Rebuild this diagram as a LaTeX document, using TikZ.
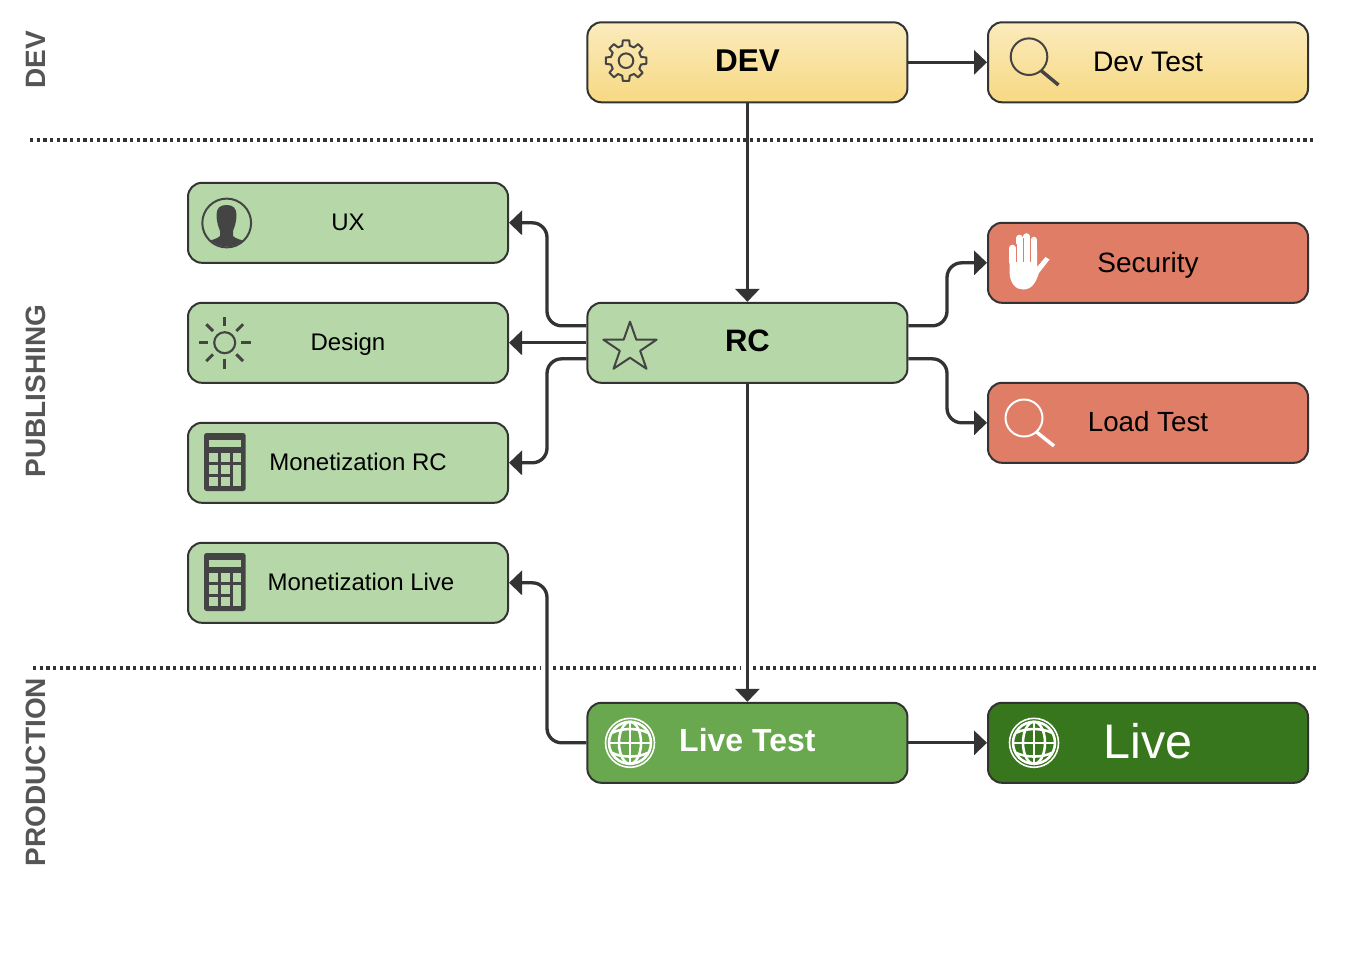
\documentclass[tikz,border=0pt]{standalone}
\usepackage{fontspec}
\setmainfont{Liberation Sans}
\usetikzlibrary{arrows.meta,calc}
\definecolor{ink}{HTML}{333333}
\definecolor{icon}{HTML}{444444}
\definecolor{side}{HTML}{555555}
\definecolor{pale}{HTML}{B6D7A8}
\definecolor{redbox}{HTML}{E07D67}
\definecolor{midgreen}{HTML}{6AA84F}
\definecolor{darkgreen}{HTML}{38761D}
\definecolor{goldtop}{HTML}{FBEBBD}
\definecolor{goldbot}{HTML}{F7D983}
\tikzset{
  x=0.75pt,y=-0.75pt,
  fs/.style={font=\fontsize{#1pt}{#1pt}\selectfont,text height=#1*0.72pt,text depth=#1*0.06pt},
  fsb/.style={font=\fontsize{#1pt}{#1pt}\selectfont\bfseries,text height=#1*0.72pt,text depth=#1*0.15pt},
  box/.style={draw=ink,line width=1.5pt,rounded corners=10.5pt,minimum width=240pt,minimum height=60pt,inner sep=0pt,align=center},
  gold/.style={box,top color=goldtop,bottom color=goldbot},
  greenbox/.style={box,fill=pale},
  red/.style={box,fill=redbox},
  conn/.style={draw=ink,line width=2.5pt,rounded corners=11pt,-{Triangle[length=9.75pt,width=18pt]}},
  sep/.style={draw=ink,line width=2.7pt,dash pattern=on 2.6pt off 2.4pt},
  lane/.style={fsb=21,text=side,rotate=90,inner sep=0pt},
  ico/.style={draw=icon,line width=1.5pt,line join=round},
  calcicon/.pic={
    \fill[icon,rounded corners=2pt] (204,-29.5) rectangle (245.7,28.5);
    \fill[pale] (209,-22.5) rectangle (241,-15.2);
    \fill[pale] (209,-9.5) rectangle (217.7,-0.2);
    \fill[pale] (221,-9.5) rectangle (230,-0.2);
    \fill[pale] (232.7,-9.5) rectangle (241,-0.2);
    \fill[pale] (209,2.5) rectangle (217.7,11.8);
    \fill[pale] (221,2.5) rectangle (230,11.8);
    \fill[pale] (209,14.5) rectangle (217.7,23.8);
    \fill[pale] (221,14.5) rectangle (230,23.8);
    \fill[pale] (232.7,2.5) rectangle (241,23.8);
  },
  globeicon/.pic={
    \begin{scope}[draw=white,line width=1.9pt]
      \draw[line width=1.2pt] (0,0) circle (24.5);
      \draw (0,0) circle (21);
      \draw (0,0) ellipse (11 and 21);
      \draw (0,-21) -- (0,21);
      \draw (-21,0) -- (21,0);
      \draw (-18,-10) .. controls (-8,-15) and (8,-15) .. (18,-10);
      \draw (-18,10) .. controls (-8,15) and (8,15) .. (18,10);
    \end{scope}
  },
}
\begin{document}
\begin{tikzpicture}
\useasboundingbox (0,0) rectangle (1369,958);

% lane separators
\draw[sep] (30,140) -- (1316,140);
\draw[sep] (33,668) -- (541,668);
\draw[sep] (553,668) -- (740,668);
\draw[sep] (753,668) -- (1318,668);

% lane labels
\node[lane] (lanedev) at (37.5,60) {DEV};
\node[lane] (lanepub) at (37.5,391) {PUBLISHING};
\node[lane] (laneprod) at (37.5,772) {PRODUCTION};

% boxes
\node[gold,fsb=23.6] (dev) at (747.4,62.3) {DEV};
\node[gold,fs=21.2] (devtest) at (1148,62.3) {Dev Test};
\node[greenbox,fs=18] (ux) at (348,222.8) {UX};
\node[greenbox,fs=18] (design) at (348,342.8) {Design};
\node[greenbox,fs=18] (monrc) at (348,462.8) {\hspace*{15pt}Monetization RC};
\node[greenbox,fs=18] (monlive) at (348,582.8) {\hspace*{19.5pt}Monetization Live};
\node[greenbox,fsb=23.25] (rc) at (747.4,342.8) {RC};
\node[red,fs=21] (security) at (1148,262.8) {Security};
\node[red,fs=20.8] (load) at (1148,422.8) {Load Test};
\node[box,fill=midgreen,text=white,fsb=24] (livetest) at (747.4,742.8) {Live Test};
\node[box,fill=darkgreen,text=white,fs=36.4] (live) at (1148,742.8) {Live};

% connector helpers
\coordinate (rcwa) at ($(rc.west)+(0,-17)$);
\coordinate (rcwb) at ($(rc.west)+(0,16)$);
\coordinate (rcea) at ($(rc.east)+(0,-17)$);
\coordinate (rceb) at ($(rc.east)+(0,16)$);
\coordinate (busl) at (547,0);
\coordinate (busr) at (947,0);

% connectors
\draw[conn] (dev) -- (devtest);
\draw[conn] (dev) -- (rc);
\draw[conn] (rc) -- (livetest);
\draw[conn] (livetest) -- (live);
\draw[conn] (rc) -- (design);
\draw[conn] (rcwa) -- (busl |- rcwa) -- (busl |- ux.east) -- (ux.east);
\draw[conn] (rcwb) -- (busl |- rcwb) -- (busl |- monrc.east) -- (monrc.east);
\draw[conn] (rcea) -- (busr |- rcea) -- (busr |- security.west) -- (security.west);
\draw[conn] (rceb) -- (busr |- rceb) -- (busr |- load.west) -- (load.west);
\draw[conn] (livetest.west) -- (busl |- livetest.west) -- (busl |- monlive.east) -- (monlive.east);

% gear
\begin{scope}[shift={(626,60.7)}]
  \draw[ico] (-9:20.5) \foreach \a in {0,45,...,315} { -- (\a-9:20.5) -- (\a+9:20.5) -- (\a+14:15.5) -- (\a+31:15.5) } -- cycle;
  \draw[ico] (0,0) circle (7.3);
\end{scope}

% magnifiers
\draw[ico] (1029,56.7) circle (18.3);
\draw[draw=icon,line width=2.6pt] (1041,70.5) -- (1058.5,85);
\draw[draw=white,line width=1.5pt] (1024,418) circle (18.5);
\draw[draw=white,line width=2.6pt] (1036.5,432) -- (1054,446);

% person
\draw[ico] (226.7,223) circle (24.4);
\begin{scope}
  \clip (226.7,223) circle (23.5);
  \fill[icon] (226.5,205) .. controls (220,205) and (216.5,208) .. (216.5,215)
    .. controls (216.5,222) and (218.5,227) .. (220,231) -- (220,236)
    .. controls (217,239) and (212,240) .. (204,242) -- (204,252) -- (250,252) -- (250,242)
    .. controls (241,240) and (236,239) .. (233,236) -- (233,231)
    .. controls (234.5,227) and (236.5,222) .. (236.5,215)
    .. controls (236.5,208) and (233,205) .. (226.5,205) -- cycle;
\end{scope}

% sun
\begin{scope}[shift={(224.7,342.7)}]
  \draw[draw=icon,line width=1.6pt] (0,0) circle (10.5);
  \foreach \a in {0,45,...,315} \draw[draw=icon,line width=2.2pt] (\a:16.5) -- (\a:26);
\end{scope}

% calculators
\pic at (0,462.5) {calcicon};
\pic at (0,582.5) {calcicon};

% star
\begin{scope}[shift={(630,347.7)}]
  \draw[ico] (90:28 and -26) -- (126:10.7 and -10) -- (162:28 and -26) -- (198:10.7 and -10) -- (234:28 and -26)
    -- (270:10.7 and -10) -- (306:28 and -26) -- (342:10.7 and -10) -- (18:28 and -26) -- (54:10.7 and -10) -- cycle;
\end{scope}

% hand
\begin{scope}
  \fill[white] (1009.5,250) -- (1009.5,272) .. controls (1010,284) and (1016,289.5) .. (1023,289.5)
    .. controls (1033,289.5) and (1036,281) .. (1039,273) -- (1049.5,259.5) -- (1045.5,257) -- (1037,267) -- (1037,250) -- cycle;
  \draw[draw=white,line width=4.9pt,line cap=round] (1012.6,248) -- (1012.6,262);
  \draw[draw=white,line width=4.9pt,line cap=round] (1019.4,238) -- (1019.4,262);
  \draw[draw=white,line width=4.9pt,line cap=round] (1026.6,236.5) -- (1026.6,262);
  \draw[draw=white,line width=4.9pt,line cap=round] (1033.8,240) -- (1033.8,262);
  \draw[draw=redbox,line width=0.55pt] (1016,244) -- (1016,262) (1023,238) -- (1023,262) (1030.2,238) -- (1030.2,262);
\end{scope}

% globes
\pic at (630,742.8) {globeicon};
\pic at (1034,742.8) {globeicon};
\end{tikzpicture}
\end{document}
